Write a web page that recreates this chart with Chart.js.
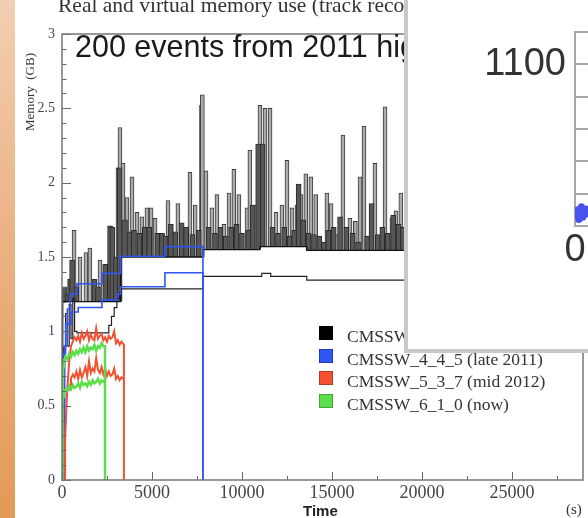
<!DOCTYPE html>
<html>
<head>
<meta charset="utf-8">
<script src="https://cdn.jsdelivr.net/npm/chart.js@4.4.1/dist/chart.umd.min.js"></script>
<style>
  html, body { margin:0; padding:0; background:#fff; width:588px; height:518px; overflow:hidden; }
  #wrap { position:relative; width:588px; height:518px; }
  #main { position:absolute; left:0; top:0; }
  .txt { position:absolute; white-space:nowrap; z-index:2; }
  #strip { position:absolute; left:0; top:0; width:15px; height:518px; z-index:6;
           background:linear-gradient(to bottom, #f2cfb2 0%, #ebb384 45%, #e39a56 100%); }
  #panel { position:absolute; left:404px; top:0; width:184px; height:353px; box-sizing:border-box;
           border-left:4px solid #c8c8c8; border-bottom:4px solid #c8c8c8; background:#fff;
           overflow:hidden; z-index:5; }
  #panelCanvas { position:absolute; left:0; top:0; }
  #legend { position:absolute; left:319px; top:326px; z-index:2; }
  .row { position:absolute; left:0; height:14px; display:flex; align-items:center; }
  .box { width:14px; height:14px; box-sizing:border-box; border:1px solid rgba(0,0,0,0.25); }
  .lab { position:absolute; left:28px; top:0; line-height:14px; font:17.5px "Liberation Serif", serif; color:#333; white-space:nowrap; }
</style>
</head>
<body>
<div id="wrap">
  <canvas id="main" width="588" height="518"></canvas>
  <div id="strip"></div>
  <div class="txt" style="left:58px; top:-7px; font:21.5px 'Liberation Serif', serif; color:#333;">Real and virtual memory use (track reconstruction)</div>
  <div class="txt" style="left:75px; top:29px; font:30.5px 'Liberation Sans', sans-serif; color:#1a1a1a;">200 events from 2011 high pile-up data</div>
  <div class="txt" style="left:30px; top:92px; transform:translate(-50%,-50%) rotate(-90deg); font:13px 'Liberation Serif', serif; color:#333;">Memory&nbsp;&nbsp;(GB)</div>
  <div class="txt" style="left:303px; top:503px; font:bold 15px 'Liberation Sans', sans-serif; color:#222; line-height:15px;">Time</div>
  <div class="txt" style="left:566px; top:502px; font:15px 'Liberation Serif', serif; color:#333; line-height:15px;">(s)</div>
  <div id="legend"></div>
  <div id="panel"><canvas id="panelCanvas" width="300" height="349"></canvas></div>
</div>
<script>
// ---------------- data ----------------
const timeMax = 28950;
const xTickValues = [0, 5000, 10000, 15000, 20000, 25000];
const yTickValues = [0, 0.5, 1, 1.5, 2, 2.5, 3];

const seriesLabels = ["CMSSW_4_2_8 (early 2011)", "CMSSW_4_4_5 (late 2011)", "CMSSW_5_3_7 (mid 2012)", "CMSSW_6_1_0 (now)"];
const seriesColors = ["#000000", "#2f55f2", "#f2502e", "#5ade4a"];

// black: real memory (step line)
const blackRealT = [0,30,100,200,300,400,500,600,700,830,2600,2750,2900,3050,3200,3300,7830,11100,11600,13600,28950];
const blackRealV = [0,0.62,0.9,1.12,0.9,1.18,0.95,1.22,1.0,0.99,1.04,1.1,1.16,1.22,1.26,1.285,1.37,1.39,1.37,1.345,1.345];
// black: virtual memory baseline (step line)
const blackVirtT = [0,40,3250,7830,11000,13600,28950];
const blackVirtV = [0,1.2,1.5,1.55,1.57,1.545,1.545];
// black: virtual memory spikes (tops)
const spikeLightT = [670,1000,1330,1550,2110,2500,3110,3220,3390,3610,3890,4170,4440,4720,4950,5170,5890,6440,7110,7400,7750,7800,8000,8330,8610,9000,9280,9550,9830,10280,10440,10720,11000,11280,11560,11890,12220,12500,12780,13060,13280,13550,13830,14100,14720,14950,15280,15610,16000,16300,16560,16780,17170,17390,17700,17950,18330,18560,18830];
const spikeLightTop = [1.68,1.50,1.53,1.56,1.48,1.45,2.10,2.37,2.13,1.90,2.04,1.80,1.77,1.83,1.83,1.76,1.88,1.86,2.07,1.85,2.52,2.59,2.08,1.83,1.92,1.72,1.93,2.09,1.92,1.83,2.22,1.85,2.52,2.50,2.50,1.80,1.85,2.15,1.83,1.85,1.92,2.06,2.04,1.92,1.93,1.86,1.65,2.32,1.76,1.74,2.04,2.38,1.62,2.13,1.62,2.51,1.76,1.81,1.93];
const spikeDarkT = [150,300,450,560,800,1800,2000,2400,2670,2800,3000,3200,3500,3750,4000,4300,4600,4850,5300,5560,5750,6050,6300,6650,6900,7250,7600,8150,8500,8800,9100,9400,9700,10000,10350,10600,10900,11150,11700,12000,12350,12650,12900,13150,13400,13700,14000,14300,14550,14800,15100,15450,15800,16150,16450,16950,17200,17550,17800,18100,18400,18700,18950];
const spikeDarkTop = [1.3,1.25,1.35,1.48,1.3,1.35,1.3,1.45,1.71,1.70,1.5,2.10,1.75,1.67,1.68,1.66,1.70,1.70,1.66,1.66,1.64,1.72,1.67,1.73,1.70,1.65,1.68,1.70,1.66,1.70,1.64,1.70,1.72,1.66,1.68,1.85,2.26,2.26,1.70,1.66,1.70,1.64,1.68,1.99,1.75,1.66,1.65,1.64,1.60,1.68,1.70,1.77,1.70,1.66,1.60,1.64,1.86,1.65,1.70,1.66,1.78,1.72,1.70];

// blue (step lines)
const blueVirtT = [0,100,200,300,450,830,2220,3250,5720,7830,7900];
const blueVirtV = [0,0.85,1.05,1.15,1.25,1.32,1.39,1.505,1.57,0,0];
const blueRealT = [0,150,300,500,900,2220,3050,3250,5720,7830,7900];
const blueRealV = [0,0.9,1.05,1.13,1.16,1.21,1.25,1.30,1.394,0,0];

// red
const redVirtT = [170,170,230,300,400,500,600,700,800,900,1000,1100,1200,1300,1400,1500,1600,1700,1800,1900,2000,2100,2200,2300,2400,2500,2600,2700,2800,2900,3000,3100,3200,3300,3440,3440];
const redVirtV = [0,0.27,0.45,0.62,0.8,0.9,0.93,0.96,0.94,0.97,0.93,0.99,0.95,0.97,1.0,0.94,0.98,0.95,0.94,1.02,0.95,0.97,0.98,0.94,0.96,0.93,0.97,0.95,0.96,1.0,0.92,0.94,0.91,0.93,0.91,0];
const redRealT = [380,450,500,600,700,800,900,1000,1100,1200,1300,1400,1500,1600,1700,1800,1900,2000,2100,2200,2300,2400,2500,2600,2700,2800,2900,3000,3100,3200,3300,3440];
const redRealV = [0.6,0.64,0.68,0.71,0.69,0.73,0.68,0.74,0.69,0.72,0.76,0.7,0.8,0.72,0.75,0.73,0.82,0.74,0.72,0.76,0.71,0.75,0.7,0.73,0.7,0.71,0.75,0.68,0.7,0.67,0.69,0.68];

// green
const greenVirtT = [0,30,60,100,200,300,400,500,600,700,800,900,1000,1100,1200,1300,1400,1500,1600,1700,1800,1900,2000,2100,2200,2300,2390,2390];
const greenVirtV = [0,0.5,0.76,0.8,0.83,0.81,0.85,0.83,0.86,0.84,0.87,0.85,0.88,0.86,0.89,0.86,0.9,0.87,0.89,0.88,0.91,0.87,0.9,0.89,0.92,0.9,0.9,0];
const greenRealT = [60,100,200,300,400,500,600,700,800,900,1000,1100,1200,1300,1400,1500,1600,1700,1800,1900,2000,2100,2200,2300,2390];
const greenRealV = [0.56,0.59,0.61,0.6,0.63,0.61,0.64,0.62,0.63,0.65,0.62,0.66,0.64,0.65,0.63,0.66,0.64,0.67,0.65,0.66,0.68,0.65,0.67,0.66,0.67];

// overlaid second chart (partly visible)
const panelYTicks = [0, 220, 440, 660, 880, 1100, 1320];
const panelYTickLabel = 1100;
const panelPtsX = [1,2,3,4,5,6,7,8,9];
const panelPtsY = [70,110,45,95,130,60,100,80,115];

// ---------------- helpers ----------------
const pts = (T, V) => T.map((t, i) => ({ x: t, y: V[i] }));
function baseAt(t) {
  let b = blackVirtV[0];
  for (let i = 0; i < blackVirtT.length; i++) if (blackVirtT[i] <= t) b = blackVirtV[i];
  return b;
}
const bars = (T, Top) => T.map((t, i) => ({ x: t, y: [baseAt(t), Top[i]] }));

// legend
const legend = document.getElementById('legend');
seriesLabels.forEach((s, i) => {
  const r = document.createElement('div');
  r.className = 'row';
  r.style.top = (i * 22.6) + 'px';
  r.innerHTML = '<div class="box" style="background:' + seriesColors[i] + '"></div><div class="lab">' + s + '</div>';
  legend.appendChild(r);
});

// ---------------- main chart ----------------
const frameTicks = {
  id: 'frameTicks',
  afterDatasetsDraw(chart) {
    const { ctx, chartArea: a, scales: { x, y } } = chart;
    ctx.save();
    ctx.strokeStyle = '#666';
    ctx.lineWidth = 1;
    ctx.beginPath();
    for (let i = 0; i * 2500 <= x.max; i++) {
      const px = Math.round(x.getPixelForValue(i * 2500)) + 0.5;
      const len = i % 2 === 0 ? 8 : 4;
      ctx.moveTo(px, a.bottom); ctx.lineTo(px, a.bottom - len);
    }
    for (let i = 0; i <= 30; i++) {
      const py = Math.round(y.getPixelForValue(i / 10)) + 0.5;
      const len = i % 5 === 0 ? 9 : 4.5;
      ctx.moveTo(a.left, py); ctx.lineTo(a.left + len, py);
    }
    ctx.stroke();
    ctx.lineWidth = 1.5;
    ctx.strokeStyle = '#777';
    ctx.strokeRect(a.left, a.top, a.right - a.left, a.bottom - a.top);
    ctx.restore();
  }
};

const lineDS = (data, color, width, order, stepped) => ({
  type: 'line', data, borderColor: color, borderWidth: width, pointRadius: 0,
  fill: false, tension: 0, stepped: stepped ? 'before' : false, order
});

new Chart(document.getElementById('main'), {
  type: 'line',
  data: {
    datasets: [
      { type: 'bar', data: bars(spikeLightT, spikeLightTop), backgroundColor: '#ababab', borderColor: '#3a3a3a',
        borderWidth: 1, barThickness: 4, grouped: false, order: 10 },
      { type: 'bar', data: bars(spikeDarkT, spikeDarkTop), backgroundColor: '#575757', borderColor: '#2a2a2a',
        borderWidth: 1, barThickness: 5, grouped: false, order: 9 },
      lineDS(pts(blackVirtT, blackVirtV), '#111', 1.3, 6, true),
      lineDS(pts(blackRealT, blackRealV), '#222', 1.2, 5, true),
      lineDS(pts(blueVirtT, blueVirtV), seriesColors[1], 1.6, 4, true),
      lineDS(pts(blueRealT, blueRealV), seriesColors[1], 1.6, 4, true),
      lineDS(pts(redVirtT, redVirtV), seriesColors[2], 2, 3, false),
      lineDS(pts(redRealT, redRealV), seriesColors[2], 2, 3, false),
      lineDS(pts(greenVirtT, greenVirtV), seriesColors[3], 2.5, 2, false),
      lineDS(pts(greenRealT, greenRealV), seriesColors[3], 2.5, 2, false)
    ]
  },
  options: {
    responsive: false, animation: false, events: [],
    layout: { padding: { top: 34, right: 5, left: 0, bottom: 0 } },
    plugins: { legend: { display: false }, tooltip: { enabled: false }, title: { display: false } },
    scales: {
      x: {
        type: 'linear', min: 0, max: timeMax, offset: false,
        grid: { display: false, drawTicks: false }, border: { display: false },
        afterBuildTicks: s => { s.ticks = xTickValues.map(v => ({ value: v })); },
        ticks: { autoSkip: false, maxRotation: 0, minRotation: 0, padding: 2,
                 font: { family: 'Liberation Serif', size: 18 }, color: '#444',
                 callback: v => String(v) },
        afterFit: s => { s.height = 38; }
      },
      y: {
        type: 'linear', min: 0, max: 3,
        grid: { display: false, drawTicks: false }, border: { display: false },
        afterBuildTicks: s => { s.ticks = yTickValues.map(v => ({ value: v })); },
        ticks: { autoSkip: false, padding: 7,
                 font: { family: 'Liberation Serif', size: 14 }, color: '#44455a',
                 callback: v => String(v) },
        afterFit: s => { s.width = 62; }
      }
    }
  },
  plugins: [frameTicks]
});

// ---------------- overlaid panel chart ----------------
new Chart(document.getElementById('panelCanvas'), {
  type: 'scatter',
  data: { datasets: [{ data: pts(panelPtsX, panelPtsY), backgroundColor: '#4a52ee', borderColor: '#4a52ee',
                       pointRadius: 3.5, borderWidth: 0 }] },
  options: {
    responsive: false, animation: false, events: [],
    layout: { padding: 0 },
    plugins: { legend: { display: false }, tooltip: { enabled: false } },
    scales: {
      x: {
        type: 'linear', min: 0, max: 100,
        grid: { display: false, drawTicks: false }, border: { display: false },
        afterBuildTicks: s => { s.ticks = [{ value: 0 }]; },
        ticks: { autoSkip: false, maxRotation: 0, minRotation: 0, padding: 2,
                 font: { family: 'Liberation Sans', size: 38 }, color: '#333',
                 callback: v => String(v) },
        afterFit: s => { s.height = 123; }
      },
      y: {
        type: 'linear', min: 0, max: 1320,
        grid: { color: '#a8a8a8', lineWidth: 2, drawTicks: false },
        border: { display: true, color: '#a8a8a8', width: 2 },
        afterBuildTicks: s => { s.ticks = panelYTicks.map(v => ({ value: v })); },
        ticks: { autoSkip: false, padding: 9,
                 font: { family: 'Liberation Sans', size: 38 }, color: '#333',
                 callback: v => v === panelYTickLabel ? String(v) : '' },
        afterFit: s => { s.width = 167; }
      }
    }
  }
});
</script>
</body>
</html>
